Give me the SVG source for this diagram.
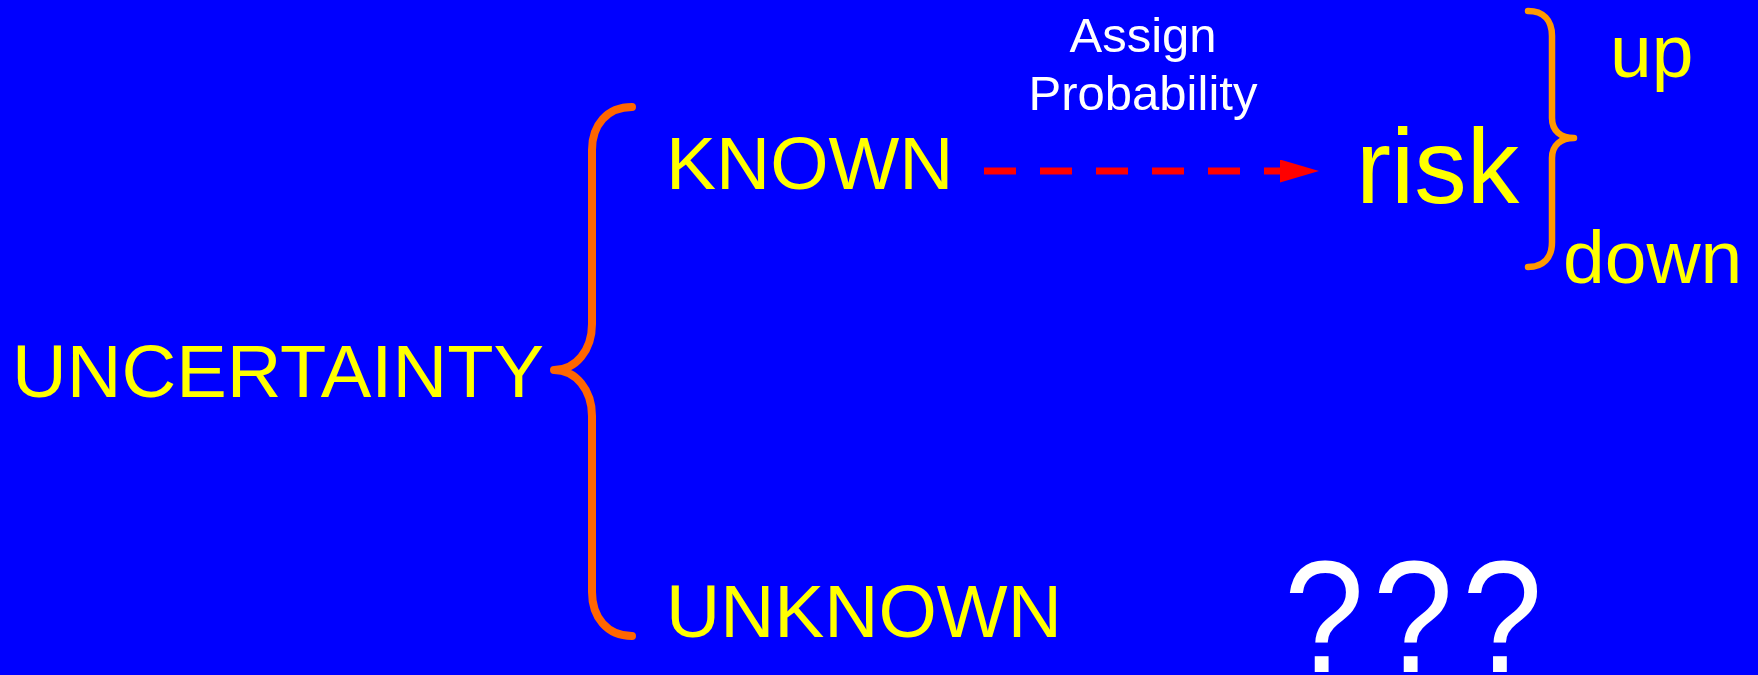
<svg xmlns="http://www.w3.org/2000/svg" width="1758" height="675" viewBox="0 0 1758 675">
  <style>
    text { font-family: "Liberation Sans", Arial, sans-serif; }
    .y { fill: #FFFF00; }
    .w { fill: #FFFFFF; }
    .big { font-size: 75px; }
    .brace { fill: none; stroke-linecap: round; stroke-linejoin: round; }
  </style>
  <defs>
    <marker id="ah" viewBox="0 0 39 23" markerWidth="39" markerHeight="23" refX="0" refY="11.5" markerUnits="userSpaceOnUse" orient="auto">
      <path d="M0,0 L39,11.5 L0,23 Z" fill="#FF0000"/>
    </marker>
  </defs>
  <rect x="0" y="0" width="1758" height="675" fill="#0000FF"/>

  <g id="connectors">
    <path id="brace-left" class="brace" stroke="#FF6600" stroke-width="8" d="M632,107 C607,107 592,125 592,150 L592,324 C592,350 576,370 554,370 C576,370 592,390 592,416 L592,592 C592,617 607,636 632,636"/>
    <path id="brace-right" class="brace" stroke="#FF9900" stroke-width="6.5" d="M1528,11 C1543,11 1552,20 1552,36 L1552,118 C1552,131 1561,138 1574,138 C1561,138 1552,145 1552,158 L1552,242 C1552,258 1543,267 1528,267"/>
    <line id="arrow-known-risk" x1="984" y1="171" x2="1280" y2="171" stroke="#FF0000" stroke-width="7" stroke-dasharray="32 24" marker-end="url(#ah)"/>
  </g>

  <g id="node-uncertainty">
    <text class="y big" x="12" y="397" textLength="532" lengthAdjust="spacingAndGlyphs">UNCERTAINTY</text>
  </g>
  <g id="node-known">
    <text class="y big" x="666" y="189">KNOWN</text>
  </g>
  <g id="node-unknown">
    <text class="y big" x="666" y="637">UNKNOWN</text>
  </g>
  <g id="label-assign">
    <text class="w" x="1143" y="51.5" font-size="49" text-anchor="middle">Assign</text>
    <text class="w" x="1143" y="110" font-size="49" text-anchor="middle">Probability</text>
  </g>
  <g id="node-risk">
    <text class="y" x="1356" y="203" font-size="105">risk</text>
  </g>
  <g id="node-up">
    <text class="y big" x="1610" y="77">up</text>
  </g>
  <g id="node-down">
    <text class="y big" x="1563" y="283">down</text>
  </g>
  <g id="node-question">
    <text class="w" transform="translate(1284,672) scale(0.9,1)" x="0" y="0" font-size="160" letter-spacing="10">???</text>
  </g>
</svg>
